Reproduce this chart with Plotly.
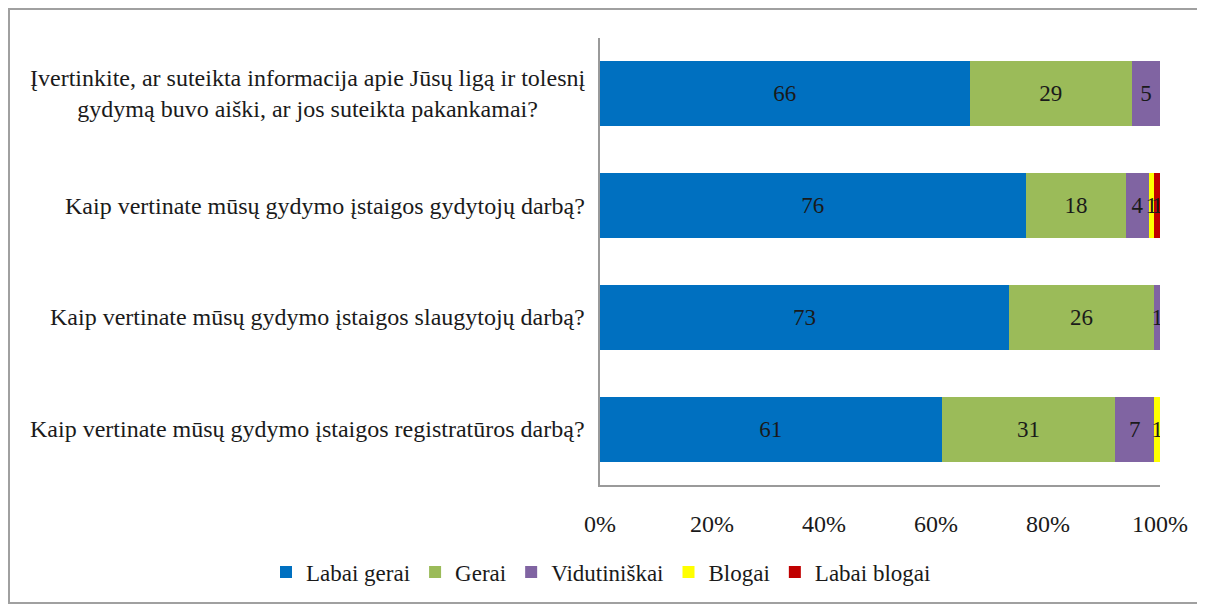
import plotly.graph_objects as go

categories = [
    "Įvertinkite, ar suteikta informacija apie Jūsų ligą ir tolesnį<br>gydymą buvo aiški, ar jos suteikta pakankamai?",
    "Kaip vertinate mūsų gydymo įstaigos gydytojų darbą?",
    "Kaip vertinate mūsų gydymo įstaigos slaugytojų darbą?",
    "Kaip vertinate mūsų gydymo įstaigos registratūros darbą?",
]
series_names = ["Labai gerai", "Gerai", "Vidutiniškai", "Blogai", "Labai blogai"]
labai_gerai = [66, 76, 73, 61]
gerai = [29, 18, 26, 31]
vidutiniskai = [5, 4, 1, 7]
blogai = [0, 1, 0, 1]
labai_blogai = [0, 1, 0, 0]
x_ticks = [0, 20, 40, 60, 80, 100]
x_tick_labels = ["0%", "20%", "40%", "60%", "80%", "100%"]

colors = ["#0070C0", "#9BBB59", "#8064A2", "#FFFF00", "#C00000"]
values = [labai_gerai, gerai, vidutiniskai, blogai, labai_blogai]

FONT = "Liberation Serif, Times New Roman, serif"
TXT = "#1a1a1a"

fig = go.Figure()
for name, vals, col in zip(series_names, values, colors):
    fig.add_trace(go.Bar(
        y=categories, x=vals, name=name, orientation="h",
        marker=dict(color=col, line=dict(width=0)),
        text=[str(v) if v else "" for v in vals],
        textposition="inside", insidetextanchor="middle",
        constraintext="none",
        textfont=dict(family=FONT, size=23, color=TXT),
        hoverinfo="x+name",
    ))

for c in categories:
    fig.add_annotation(
        x=-0.024, xref="paper", y=c, yref="y", text=c, showarrow=False,
        xanchor="right", yanchor="middle", align="center",
        font=dict(family=FONT, size=24, color=TXT),
    )

W, H = 1205, 605
L, R, T, B = 592, 53, 30, 128
pw, ph = W - L - R, H - T - B
fig.add_shape(
    type="rect", xref="paper", yref="paper",
    x0=(1 - L) / pw, x1=(1193 - L) / pw,
    y0=(H - B - 595) / ph, y1=(H - B - 1) / ph,
    line=dict(color="#A0A0A0", width=2), fillcolor="rgba(0,0,0,0)",
    layer="below",
)

fig.update_layout(
    width=W, height=H,
    barmode="stack", bargap=0.42,
    margin=dict(l=L, r=R, t=T, b=B),
    paper_bgcolor="white", plot_bgcolor="white",
    font=dict(family=FONT, size=24, color=TXT),
    showlegend=True,
    legend=dict(
        orientation="h", x=(258 - L) / pw, xanchor="left",
        y=(H - B - 564) / ph, yanchor="middle",
        font=dict(family=FONT, size=23, color=TXT),
        bgcolor="rgba(0,0,0,0)",
        traceorder="normal", itemwidth=30, tracegroupgap=0,
    ),
    xaxis=dict(
        range=[0, 100], tickvals=x_ticks, ticktext=x_tick_labels,
        showgrid=False, zeroline=False, showline=True,
        linecolor="#9a9a9a", linewidth=2, ticks="",
        ticklabelstandoff=16,
        tickfont=dict(family=FONT, size=24, color=TXT),
    ),
    yaxis=dict(
        autorange="reversed", showticklabels=False, showgrid=False,
        zeroline=False, showline=True, linecolor="#9a9a9a", linewidth=1.5,
        ticks="",
    ),
)

fig.write_html("out.html")
